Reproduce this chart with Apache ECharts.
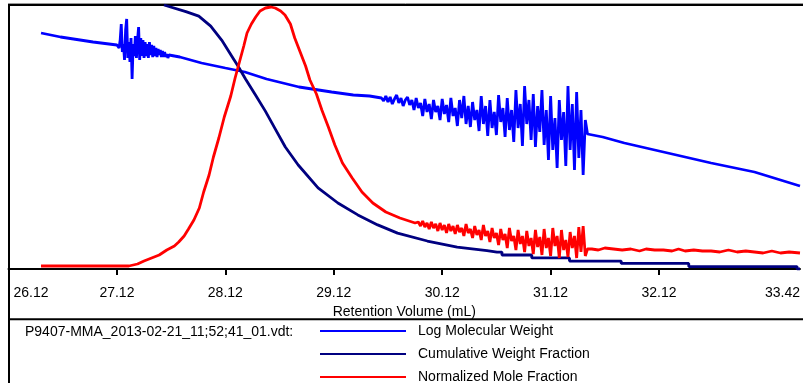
<!DOCTYPE html>
<html>
<head>
<meta charset="utf-8">
<script src="https://cdn.jsdelivr.net/npm/echarts@6/dist/echarts.min.js"></script>
<style>html,body{margin:0;padding:0;background:#fff;}#c{width:803px;height:383px;}</style>
</head>
<body>
<div id="c"></div>
<script>
// x: Retention Volume (mL)
var xLabelValues = [26.12, 27.12, 28.12, 29.12, 30.12, 31.12, 32.12, 33.42];
var xTickValues = [27.12, 28.12, 29.12, 30.12, 31.12, 32.12];
var seriesNames = ['Log Molecular Weight', 'Cumulative Weight Fraction', 'Normalized Mole Fraction'];
var fileLabel = 'P9407-MMA_2013-02-21_11;52;41_01.vdt:';

// Log Molecular Weight [mL, logMW]
var logMW = [
[26.42,6.72],[26.60,6.64],[26.90,6.54],[27.12,6.48],
[27.13,6.46],[27.14,6.42],[27.15,6.58],[27.16,6.90],[27.17,6.34],[27.18,6.50],[27.19,6.18],[27.20,6.78],[27.21,7.00],[27.22,6.22],
[27.23,6.54],[27.24,6.14],[27.25,6.62],[27.26,5.80],[27.27,6.50],[27.28,6.26],[27.29,6.66],[27.30,6.22],[27.31,6.58],[27.32,6.84],
[27.33,6.18],[27.34,6.62],[27.35,6.26],[27.36,6.58],[27.37,6.22],[27.38,6.54],[27.39,6.26],[27.40,6.50],[27.41,6.22],[27.42,6.54],
[27.43,6.28],[27.44,6.48],[27.45,6.24],[27.46,6.46],[27.47,6.26],[27.48,6.42],[27.49,6.24],[27.50,6.40],[27.51,6.28],[27.52,6.38],
[27.53,6.24],[27.54,6.36],[27.55,6.24],[27.56,6.34],[27.57,6.24],[27.58,6.30],[27.59,6.22],[27.60,6.28],
[27.70,6.24],[27.90,6.12],[28.12,6.02],[28.30,5.94],[28.50,5.80],[28.80,5.64],[29.10,5.54],[29.30,5.48],[29.45,5.46],
[29.56,5.42],[29.58,5.36],[29.60,5.46],[29.62,5.34],[29.64,5.44],[29.66,5.30],[29.68,5.40],[29.70,5.48],[29.72,5.32],[29.74,5.42],
[29.76,5.26],[29.78,5.38],[29.80,5.44],[29.82,5.28],[29.84,5.38],[29.86,5.18],[29.88,5.42],[29.90,5.22],[29.92,5.32],[29.94,5.06],
[29.96,5.40],[29.98,5.14],[30.00,5.30],[30.02,5.00],[30.04,5.38],[30.06,5.14],[30.08,5.26],[30.10,4.98],[30.12,5.40],[30.14,5.10],
[30.16,5.28],[30.18,4.94],[30.20,5.42],[30.22,5.06],[30.24,5.22],[30.26,4.86],[30.28,5.38],[30.30,5.02],[30.32,5.46],[30.34,4.90],
[30.36,5.26],[30.38,4.84],[30.40,5.34],[30.42,4.98],[30.44,5.18],[30.46,4.76],[30.48,5.46],[30.50,4.90],[30.52,5.26],[30.54,4.66],
[30.56,5.38],[30.58,4.82],[30.60,5.14],[30.62,4.68],[30.64,5.48],[30.66,4.94],[30.68,5.22],[30.70,4.64],[30.72,5.42],[30.74,4.78],
[30.76,5.18],[30.78,4.54],[30.80,5.58],[30.82,4.82],[30.84,5.30],[30.86,4.46],[30.88,5.66],[30.90,4.90],[30.92,5.38],[30.94,4.58],
[30.96,5.50],[30.98,4.44],[31.00,5.26],[31.02,4.74],[31.04,5.58],[31.06,4.48],[31.08,5.18],[31.10,4.18],[31.12,5.46],[31.14,4.38],
[31.16,5.02],[31.18,4.02],[31.20,5.38],[31.22,4.58],[31.24,5.14],[31.26,4.06],[31.28,5.66],[31.30,4.38],[31.32,5.30],[31.34,3.98],
[31.36,5.54],[31.38,4.22],[31.40,5.18],[31.42,3.88],[31.44,4.98],[31.46,4.70],
[31.60,4.64],[31.80,4.52],[32.12,4.36],[32.60,4.12],[33.00,3.94],[33.42,3.66]
];

// Cumulative Weight Fraction [mL, fraction]
var cumWF = [
[27.554,1.000],[27.756,0.975],[27.875,0.958],[27.985,0.920],[28.086,0.867],[28.178,0.807],[28.242,0.765],[28.306,0.720],
[28.398,0.659],[28.489,0.598],[28.581,0.530],[28.673,0.462],[28.792,0.394],[28.975,0.307],[29.158,0.250],[29.342,0.205],
[29.525,0.167],[29.708,0.136],[29.983,0.106],[30.258,0.083],[30.533,0.070],[30.625,0.064],
[30.671,0.064],[30.671,0.053],[30.946,0.053],[30.946,0.042],[31.294,0.042],[31.294,0.030],[31.771,0.030],[31.771,0.021],
[32.394,0.021],[32.394,0.009],[33.393,0.009],[33.393,0.000],[33.42,0.000]
];

// Normalized Mole Fraction [mL, value]
var normMF = [
[26.42,0.012],[27.23,0.012],[27.31,0.020],[27.37,0.032],[27.44,0.044],[27.51,0.056],[27.58,0.076],[27.65,0.092],[27.69,0.108],
[27.74,0.132],[27.78,0.160],[27.83,0.196],[27.88,0.244],[27.92,0.308],[27.97,0.376],[28.01,0.448],[28.06,0.524],[28.11,0.608],
[28.17,0.692],[28.21,0.764],[28.25,0.828],[28.29,0.892],[28.32,0.944],[28.36,0.980],[28.40,1.008],[28.44,1.032],[28.49,1.044],
[28.54,1.048],[28.58,1.044],[28.63,1.032],[28.67,1.016],[28.72,0.980],[28.76,0.924],[28.81,0.868],[28.86,0.812],[28.90,0.756],
[28.96,0.700],[29.01,0.636],[29.07,0.568],[29.13,0.496],[29.20,0.424],[29.29,0.364],[29.38,0.308],[29.48,0.264],[29.60,0.228],
[29.73,0.204],[29.87,0.184],
[29.90,0.188],[29.92,0.172],[29.94,0.192],[29.96,0.168],[29.98,0.184],[30.00,0.160],[30.02,0.188],[30.04,0.164],[30.06,0.180],
[30.08,0.152],[30.10,0.184],[30.12,0.156],[30.14,0.176],[30.16,0.144],[30.18,0.180],[30.20,0.152],[30.22,0.172],[30.24,0.140],
[30.26,0.176],[30.28,0.148],[30.30,0.164],[30.32,0.132],[30.34,0.180],[30.36,0.144],[30.38,0.160],[30.40,0.124],[30.42,0.172],
[30.44,0.136],[30.46,0.156],[30.48,0.116],[30.50,0.176],[30.52,0.132],[30.54,0.152],[30.56,0.108],[30.58,0.164],[30.60,0.124],
[30.62,0.144],[30.64,0.096],[30.66,0.160],[30.68,0.116],[30.70,0.140],[30.72,0.084],[30.74,0.164],[30.76,0.112],[30.78,0.132],
[30.80,0.076],[30.82,0.156],[30.84,0.100],[30.86,0.132],[30.88,0.068],[30.90,0.152],[30.92,0.092],[30.94,0.124],[30.96,0.060],
[30.98,0.156],[31.00,0.088],[31.02,0.128],[31.04,0.056],[31.06,0.160],[31.08,0.084],[31.10,0.124],[31.12,0.052],[31.14,0.164],
[31.16,0.092],[31.18,0.132],[31.20,0.044],[31.22,0.156],[31.24,0.076],[31.26,0.116],[31.28,0.048],[31.30,0.148],[31.32,0.084],
[31.34,0.132],[31.36,0.044],[31.38,0.168],[31.40,0.068],[31.42,0.172],[31.44,0.052],[31.46,0.080],
[31.50,0.080],[31.56,0.076],[31.62,0.084],[31.70,0.080],[31.78,0.076],[31.86,0.080],[31.94,0.072],[32.00,0.080],[32.08,0.076],
[32.16,0.076],[32.24,0.072],[32.30,0.080],[32.36,0.072],[32.44,0.076],[32.52,0.072],[32.60,0.072],[32.68,0.068],[32.76,0.076],
[32.84,0.068],[32.92,0.072],[33.00,0.068],[33.08,0.064],[33.16,0.072],[33.24,0.064],[33.32,0.068],[33.42,0.064]
];

var FONT = 'Arial, "Liberation Sans", sans-serif';
var legendRowTop = [324, 347, 370];
function makeLegend(i) {
  return {
    left: 320, top: legendRowTop[i], padding: 0, orient: 'horizontal', itemWidth: 86, itemHeight: 12,
    selectedMode: false, icon: 'path://M0,6 L86,6 L86,8 L0,8 Z',
    textStyle: {fontFamily: FONT, fontSize: 14, color: '#000', padding: [0, 0, 0, 7]},
    data: [seriesNames[i]]
  };
}
var chart = echarts.init(document.getElementById('c'), null, {renderer: 'canvas'});
chart.setOption({
  animation: false,
  backgroundColor: '#fff',
  grid: {left: 8.5, top: 5, width: 796.5, height: 264, containLabel: false},
  xAxis: {
    type: 'value', min: 26.12, max: 33.42, offset: 2,
    name: 'Retention Volume (mL)', nameLocation: 'middle', nameGap: 33,
    nameTextStyle: {fontFamily: FONT, fontSize: 14, color: '#000'},
    axisLine: {show: true, lineStyle: {color: '#000', width: 2}},
    axisTick: {show: true, customValues: xTickValues, length: 6, lineStyle: {color: '#000', width: 2}},
    axisLabel: {
      customValues: xLabelValues, margin: 15, fontFamily: FONT, fontSize: 14, color: '#000',
      alignMinLabel: 'left', alignMaxLabel: 'right',
      formatter: function (v) {
        var s = v.toFixed(2);
        return v === xLabelValues[0] ? '{first|' + s + '}' : s;
      },
      rich: {first: {fontFamily: FONT, fontSize: 14, color: '#000', padding: [0, 0, 0, 5]}}
    },
    splitLine: {show: false}
  },
  yAxis: [
    {type: 'value', min: 2, max: 7.28, show: false, splitLine: {show: false}},
    {type: 'value', min: 0, max: 1, show: false, splitLine: {show: false}},
    {type: 'value', min: 0, max: 1.056, show: false, splitLine: {show: false}}
  ],
  legend: [makeLegend(0), makeLegend(1), makeLegend(2)],
  series: [
    {name: seriesNames[0], type: 'line', yAxisIndex: 0, data: logMW, showSymbol: false, symbol: 'none',
     color: '#0000FF', lineStyle: {color: '#0000FF', width: 2.8}},
    {name: seriesNames[1], type: 'line', yAxisIndex: 1, data: cumWF, showSymbol: false, symbol: 'none',
     color: '#000080', lineStyle: {color: '#000080', width: 2.8}},
    {name: seriesNames[2], type: 'line', yAxisIndex: 2, data: normMF, showSymbol: false, symbol: 'none',
     color: '#FF0000', lineStyle: {color: '#FF0000', width: 2.8}}
  ],
  graphic: [
    {type: 'line', shape: {x1: 8, y1: 3.5, x2: 803, y2: 3.5}, style: {stroke: '#999', lineWidth: 1}},
    {type: 'line', shape: {x1: 8, y1: 5, x2: 803, y2: 5}, style: {stroke: '#000', lineWidth: 2}},
    {type: 'line', shape: {x1: 9, y1: 4, x2: 9, y2: 383}, style: {stroke: '#000', lineWidth: 2}},
    {type: 'line', shape: {x1: 8, y1: 319.3, x2: 803, y2: 319.3}, style: {stroke: '#000', lineWidth: 2}},
    {type: 'text', x: 25, y: 332, style: {text: fileLabel, fontFamily: FONT, fontSize: 14, fill: '#000', verticalAlign: 'middle'}}
  ]
});
</script>
</body>
</html>
